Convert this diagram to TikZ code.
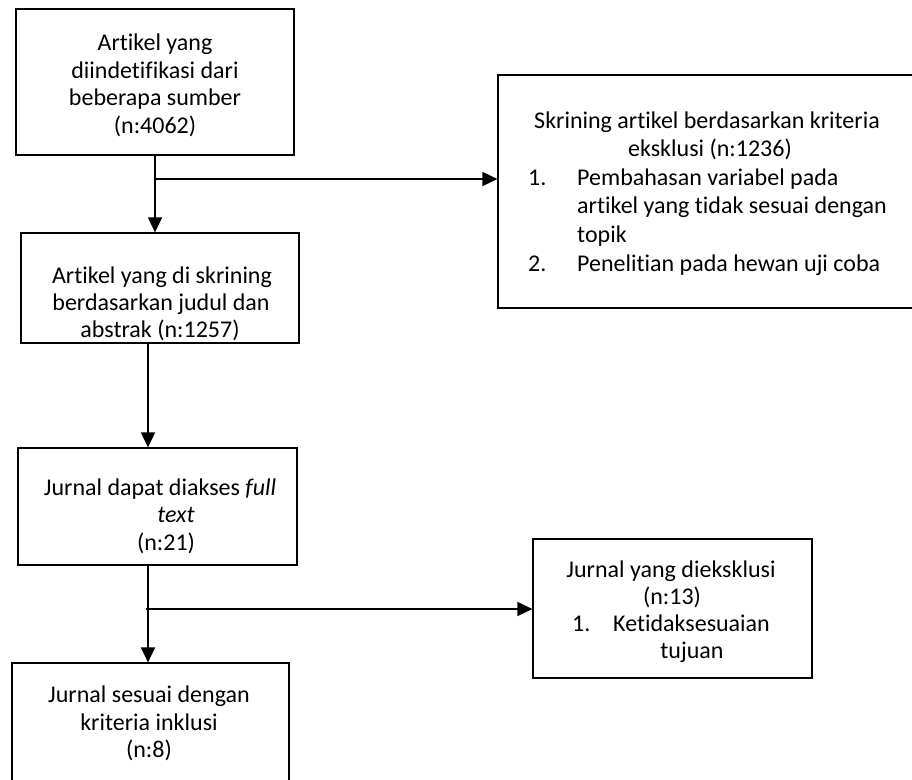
\documentclass[tikz,border=0pt]{standalone}
\usepackage{fontspec}
\setmainfont{Carlito}[Ligatures={NoCommon}]
\usetikzlibrary{arrows.meta}
\begin{document}
\begin{tikzpicture}[x=1pt,y=-1pt,
  box/.style={draw=black,line width=1.2pt,rectangle,inner sep=0pt},
  txt/.style={inner sep=0pt,anchor=base,font=\fontsize{24}{28}\selectfont},
  txtl/.style={txt,anchor=base west},
  arr/.style={draw=black,line width=1.6pt,-{Triangle[length=15pt,width=14pt]}}]
\useasboundingbox (0,0) rectangle (912,779);
\fill[white] (0,0) rectangle (912,779);
% boxes
\node[box,minimum width=278pt,minimum height=146pt] (b1) at (155,82) {};
\node[box,minimum width=278pt,minimum height=110pt] (b2) at (160,288) {};
\node[box,minimum width=418pt,minimum height=233pt] (b3) at (707,191.5) {};
\node[box,minimum width=279pt,minimum height=117pt] (b4) at (157.5,506.5) {};
\node[box,minimum width=277pt,minimum height=127pt] (b5) at (150.5,726.5) {};
\node[box,minimum width=279pt,minimum height=139pt] (b6) at (672.5,608.5) {};
% box 1 text
\node[txt] (t1a) at (155,50) {Artikel yang};
\node[txt] (t1b) at (155,78) {diindetifikasi dari};
\node[txt] (t1c) at (155,105.5) {beberapa sumber};
\node[txt] (t1d) at (155,133) {(n:4062)};
% box 2 text
\node[txt] (t2a) at (162,283) {Artikel yang di skrining};
\node[txt] (t2b) at (161,310) {berdasarkan judul dan};
\node[txt] (t2c) at (160,337) {abstrak (n:1257)};
% box 3 text
\node[txt] (t3a) at (707,128) {Skrining artikel berdasarkan kriteria};
\node[txt] (t3b) at (710,156.5) {eksklusi (n:1236)};
\node[txtl] (t3c) at (528,185) {1.};
\node[txtl] (t3d) at (577,185) {Pembahasan variabel pada};
\node[txtl] (t3e) at (577,213.5) {artikel yang tidak sesuai dengan};
\node[txtl] (t3f) at (577,242) {topik};
\node[txtl] (t3g) at (528,271) {2.};
\node[txtl] (t3h) at (577,271) {Penelitian pada hewan uji coba};
% box 4 text
\node[txt] (t4a) at (160,495) {Jurnal dapat diakses \textit{full}};
\node[txt] (t4b) at (176,522.5) {\textit{text}};
\node[txt] (t4c) at (166,550) {(n:21)};
% box 5 text
\node[txt] (t5a) at (149,702) {Jurnal sesuai dengan};
\node[txt] (t5b) at (149,730) {kriteria inklusi};
\node[txt] (t5c) at (149,757.5) {(n:8)};
% box 6 text
\node[txt] (t6a) at (671,577) {Jurnal yang dieksklusi};
\node[txt] (t6b) at (672,604) {(n:13)};
\node[txtl] (t6c) at (572,631.5) {1.};
\node[txtl] (t6d) at (613,631.5) {Ketidaksesuaian};
\node[txt] (t6e) at (692,658.5) {tujuan};
% connectors
\coordinate (j1) at (155,179);
\coordinate (x2) at (148,0);
\coordinate (j2) at (146,609);
\draw[arr] (b1.south) -- (b1.south |- b2.north);
\draw[arr] (j1) -- (j1 -| b3.west);
\draw[arr] (b2.south -| x2) -- (b4.north -| x2);
\draw[arr] (b4.south -| x2) -- (b5.north -| x2);
\draw[arr] (j2) -- (j2 -| b6.west);
\end{tikzpicture}
\end{document}
